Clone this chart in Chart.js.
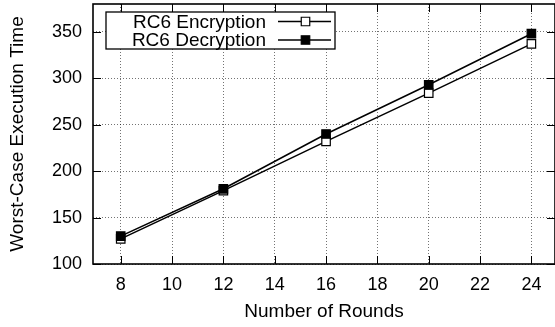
<!DOCTYPE html>
<html>
<head>
<meta charset="utf-8">
<script src="https://cdn.jsdelivr.net/npm/chart.js@4"></script>
<style>
  html, body { margin: 0; padding: 0; background: #fff; }
  #wrap { width: 555px; height: 327px; position: relative; }
</style>
</head>
<body>
<div id="wrap"><canvas id="c"></canvas></div>
<script>
// Worst-case execution time of RC6 vs. number of rounds
const rounds = [8, 12, 16, 20, 24];
const encryptionTime = [127, 179, 232, 284, 337];
const decryptionTime = [130, 181, 240, 293, 348];
const xTicks = [8, 10, 12, 14, 16, 18, 20, 22, 24];
const yTicks = [100, 150, 200, 250, 300, 350];
const seriesNames = ['RC6 Encryption', 'RC6 Decryption'];

const FAMILY = '"Liberation Sans", Arial, Helvetica, sans-serif';
const TICK_FONT = { family: FAMILY, size: 18 };
const TITLE_FONT = { family: FAMILY, size: 19 };
const GRID_COLOR = 'rgba(0,0,0,0.55)';
const TICK_LEN = 8;

const toPoints = ys => rounds.map((x, i) => ({ x: x, y: ys[i] }));

// Boxed plot frame with inward tick marks on all four sides
const framePlugin = {
  id: 'frame',
  afterDatasetsDraw(chart) {
    const { ctx, chartArea: a, scales } = chart;
    ctx.save();
    ctx.strokeStyle = '#000';
    ctx.lineWidth = 1;
    ctx.beginPath();
    xTicks.forEach(v => {
      const px = Math.round(scales.x.getPixelForValue(v)) + 0.5;
      ctx.moveTo(px, a.bottom); ctx.lineTo(px, a.bottom - TICK_LEN);
      ctx.moveTo(px, a.top); ctx.lineTo(px, a.top + TICK_LEN);
    });
    yTicks.forEach(v => {
      const py = Math.round(scales.y.getPixelForValue(v)) + 0.5;
      ctx.moveTo(a.left, py); ctx.lineTo(a.left + TICK_LEN, py);
      ctx.moveTo(a.right, py); ctx.lineTo(a.right - TICK_LEN, py);
    });
    ctx.stroke();
    ctx.lineWidth = 1.6;
    ctx.strokeRect(a.left, a.top, a.right - a.left, a.bottom - a.top);
    ctx.restore();
  }
};

// Key box in the upper-left corner: label, then line sample with marker
const keyPlugin = {
  id: 'key',
  afterDraw(chart) {
    const { ctx } = chart;
    const box = { left: 106, top: 12, right: 335, bottom: 49 };
    const rowsY = [21.5, 40];
    ctx.save();
    ctx.fillStyle = '#fff';
    ctx.fillRect(box.left, box.top, box.right - box.left, box.bottom - box.top);
    ctx.strokeStyle = '#000';
    ctx.lineWidth = 1.3;
    ctx.strokeRect(box.left, box.top, box.right - box.left, box.bottom - box.top);
    ctx.font = TITLE_FONT.size + 'px ' + FAMILY;
    ctx.textAlign = 'right';
    ctx.textBaseline = 'middle';
    chart.data.datasets.slice().sort((p, q) => p.keyIndex - q.keyIndex).forEach((ds, i) => {
      const y = rowsY[i];
      ctx.fillStyle = '#000';
      ctx.fillText(seriesNames[ds.keyIndex], 266, y + 1);
      ctx.lineWidth = 1.5;
      ctx.beginPath();
      ctx.moveTo(278, y); ctx.lineTo(331, y);
      ctx.stroke();
      ctx.fillStyle = ds.pointBackgroundColor;
      ctx.strokeStyle = '#000';
      ctx.lineWidth = ds.pointBorderWidth;
      Chart.helpers.drawPoint(ctx, { pointStyle: 'rect', radius: ds.pointRadius, borderWidth: ds.pointBorderWidth }, 305.5, y);
    });
    ctx.restore();
  }
};

new Chart(document.getElementById('c'), {
  type: 'line',
  data: {
    datasets: [
      {
        label: seriesNames[0], keyIndex: 0, order: 2,
        data: toPoints(encryptionTime),
        borderColor: '#000', borderWidth: 1.5, tension: 0, fill: false,
        pointStyle: 'rect', pointRadius: 6, pointBorderWidth: 1.2,
        pointBackgroundColor: '#fff', pointBorderColor: '#000'
      },
      {
        label: seriesNames[1], keyIndex: 1, order: 1,
        data: toPoints(decryptionTime),
        borderColor: '#000', borderWidth: 1.5, tension: 0, fill: false,
        pointStyle: 'rect', pointRadius: 6, pointBorderWidth: 1.2,
        pointBackgroundColor: '#000', pointBorderColor: '#000'
      }
    ]
  },
  options: {
    responsive: true,
    maintainAspectRatio: false,
    animation: false,
    devicePixelRatio: 1,
    layout: { autoPadding: false, padding: { top: 4, right: 0, bottom: 0, left: 0 } },
    plugins: { legend: { display: false }, tooltip: { enabled: false } },
    scales: {
      x: {
        type: 'linear', min: 6.92, max: 24.92,
        afterBuildTicks: s => { s.ticks = xTicks.map(v => ({ value: v })); },
        afterFit: s => { s.height = 63; s.paddingLeft = 0; s.paddingRight = 0; },
        ticks: { font: TICK_FONT, color: '#000', padding: 10, autoSkip: false, maxRotation: 0 },
        grid: { color: GRID_COLOR, lineWidth: 1, drawTicks: false },
        border: { display: false, dash: [1, 2] },
        title: { display: true, text: 'Number of Rounds', font: TITLE_FONT, color: '#000', padding: 4 }
      },
      y: {
        type: 'linear', min: 100, max: 380,
        afterBuildTicks: s => { s.ticks = yTicks.map(v => ({ value: v })); },
        afterFit: s => { s.width = 93; s.paddingTop = 0; s.paddingBottom = 0; },
        ticks: { font: TICK_FONT, color: '#000', padding: 11, autoSkip: false },
        grid: { color: GRID_COLOR, lineWidth: 1, drawTicks: false },
        border: { display: false, dash: [1, 2] },
        title: { display: true, text: 'Worst-Case Execution Time', font: TITLE_FONT, color: '#000', padding: 6 }
      }
    }
  },
  plugins: [framePlugin, keyPlugin]
});
</script>
</body>
</html>
